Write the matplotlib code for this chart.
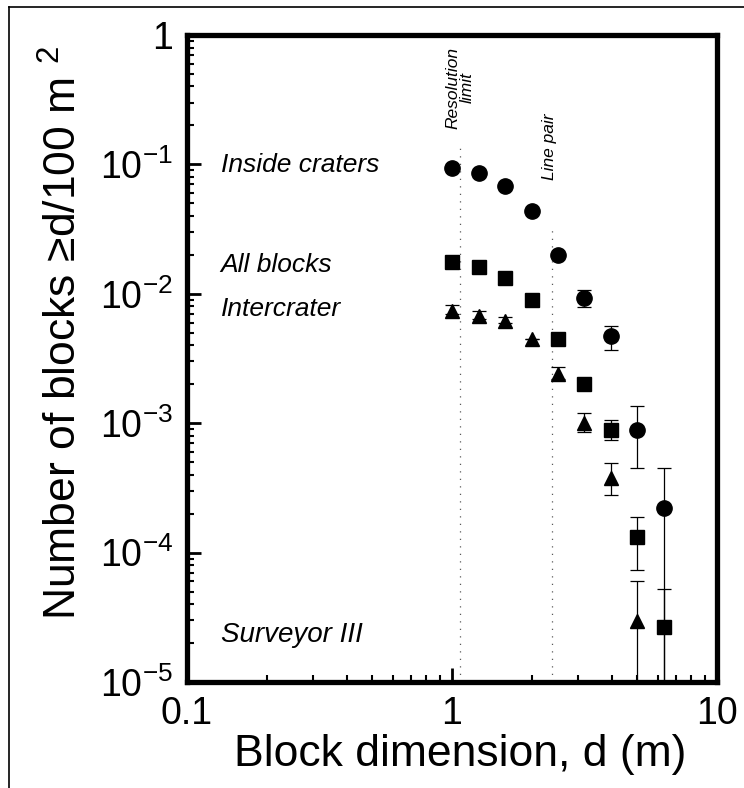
import numpy as np
import matplotlib
matplotlib.use("Agg")
import matplotlib.pyplot as plt
from matplotlib.lines import Line2D

plt.rcParams['font.family'] = ['Liberation Sans', 'DejaVu Sans']
plt.rcParams['mathtext.fontset'] = 'custom'
plt.rcParams['mathtext.rm'] = 'Liberation Sans'
plt.rcParams['mathtext.it'] = 'Liberation Sans:italic'

# block dimension (m)
d = [1.0, 1.26, 1.58, 2.0, 2.51, 3.16, 3.98, 5.01, 6.31]

# number of blocks >= d per 100 m^2, with lower / upper error bounds
inside = [0.094, 0.086, 0.068, 0.044, 0.020, 0.0093, 0.0047, 0.00089, 0.00022]
inside_lo = [0.094, 0.086, 0.068, 0.044, 0.020, 0.0079, 0.0037, 0.00045, 5e-6]
inside_hi = [0.094, 0.086, 0.068, 0.044, 0.020, 0.0107, 0.0056, 0.00135, 0.00045]

all_blocks = [0.0176, 0.0162, 0.0132, 0.0090, 0.0045, 0.0020, 0.00089, 0.000132, 2.66e-5]
all_lo = [0.0176, 0.0162, 0.0132, 0.0090, 0.0045, 0.0020, 0.00074, 7.4e-5, 5e-6]
all_hi = [0.0176, 0.0162, 0.0132, 0.0090, 0.0045, 0.0020, 0.00105, 0.00019, 5.2e-5]

d_inter = [1.0, 1.26, 1.58, 2.0, 2.51, 3.16, 3.98, 5.01]
inter = [0.0074, 0.0067, 0.0062, 0.0045, 0.0024, 0.0010, 0.00038, 2.96e-5]
inter_lo = [0.0070, 0.0064, 0.0059, 0.0045, 0.0022, 0.00085, 0.00028, 5e-6]
inter_hi = [0.0082, 0.0074, 0.0066, 0.0045, 0.0027, 0.0012, 0.00049, 6e-5]

res_limit = 1.07
line_pair = 2.38

xticks = [0.1, 1, 10]
xticklabels = ['0.1', '1', '10']
yticks = [1e-5, 1e-4, 1e-3, 1e-2, 1e-1, 1]
yticklabels = ['10$^{-5}$', '10$^{-4}$', '10$^{-3}$', '10$^{-2}$', '10$^{-1}$', '1']


def yerr(v, lo, hi):
    v = np.array(v)
    return np.vstack([v - np.array(lo), np.array(hi) - v])


fig = plt.figure(figsize=(7.44, 7.88), dpi=100)
ax = fig.add_axes([187 / 744, 1 - 682 / 788, 530 / 744, 647 / 788])
ax.set_xscale('log')
ax.set_yscale('log')
ax.set_xlim(0.1, 10)
ax.set_ylim(1e-5, 1)

# dotted reference lines
ax.plot([res_limit, res_limit], [1e-5, 0.136], color='0.35', lw=0.9, ls=(0, (1, 5)))
ax.plot([line_pair, line_pair], [1e-5, 0.032], color='0.35', lw=0.9, ls=(0, (1, 5)))

kw = dict(color='black', ecolor='black', elinewidth=0.9, capsize=5, capthick=0.9,
          linestyle='none', clip_on=True)
ax.errorbar(d, inside, yerr=yerr(inside, inside_lo, inside_hi), marker='o', ms=11, **kw)
ax.errorbar(d, all_blocks, yerr=yerr(all_blocks, all_lo, all_hi), marker='s', ms=9.5, **kw)
ax.errorbar(d_inter, inter, yerr=yerr(inter, inter_lo, inter_hi), marker='^', ms=10.5, **kw)

ax.text(0.134, 0.099, 'Inside craters', style='italic', fontsize=19, va='center')
ax.text(0.134, 0.0167, 'All blocks', style='italic', fontsize=19, va='center')
ax.text(0.134, 0.0076, 'Intercrater', style='italic', fontsize=19, va='center')
ax.text(0.134, 2.3e-5, 'Surveyor III', style='italic', fontsize=20, va='center')
ax.text(res_limit, 0.39, 'Resolution\nlimit', style='italic', fontsize=12.5, rotation=90,
        ha='center', va='center', multialignment='center', linespacing=0.95)
ax.text(2.34, 0.136, 'Line pair', style='italic', fontsize=12.5, rotation=90,
        ha='center', va='center')

ax.set_xticks(xticks)
ax.set_xticklabels(xticklabels)
ax.set_yticks(yticks)
ax.set_yticklabels(yticklabels)
ax.tick_params(which='both', direction='in', top=False, right=False, labelsize=27)
ax.tick_params(which='major', length=10, width=2, pad=10)
ax.tick_params(which='minor', length=5, width=1.5)
for s in ax.spines.values():
    s.set_linewidth(3.8)

ax.set_xlabel('Block dimension, d (m)', fontsize=32)
ax.xaxis.set_label_coords(0.515, -0.08)
ax.xaxis.label.set_verticalalignment('top')
ax.set_ylabel('Number of blocks \u2265d/100 m $^{2}$', fontsize=32)
ax.yaxis.set_label_coords(-0.192, 0.54)

# outer frame (left and top edges)
fig.add_artist(Line2D([9 / 744, 9 / 744], [0, 1 - 7 / 788], color='black', lw=1.2))
fig.add_artist(Line2D([9 / 744, 1], [1 - 7 / 788, 1 - 7 / 788], color='black', lw=1.2))

fig.savefig('out.png', dpi=100)
